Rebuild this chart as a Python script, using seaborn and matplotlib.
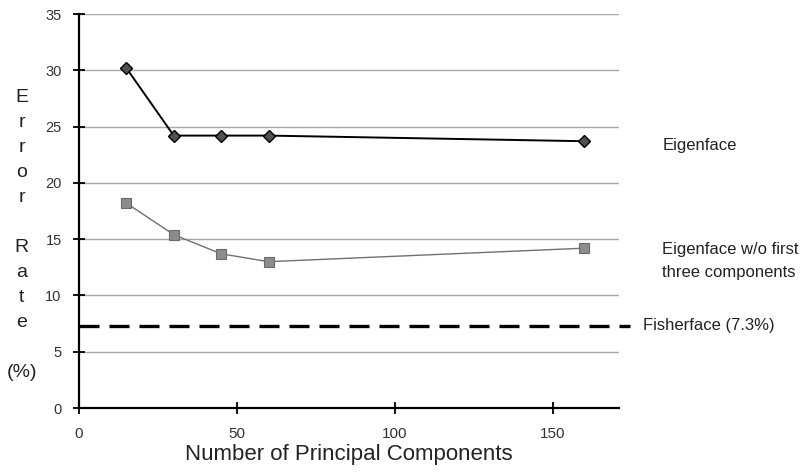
import matplotlib
matplotlib.use("Agg")
import matplotlib.pyplot as plt
import seaborn as sns
import pandas as pd

# ---- data ----
components = [15, 30, 45, 60, 160]
eigenface = [30.2, 24.2, 24.2, 24.2, 23.7]
eigenface_wo3 = [18.2, 15.4, 13.7, 13.0, 14.2]
fisherface = 7.3
y_ticks = [0, 5, 10, 15, 20, 25, 30, 35]
x_ticks = [0, 50, 100, 150]
series_labels = ["Eigenface", "Eigenface w/o first\nthree components", "Fisherface (7.3%)"]

sns.set_theme(style="white")
plt.rcParams['font.family'] = ['Liberation Sans', 'DejaVu Sans']

fig = plt.figure(figsize=(8.11, 4.75), dpi=100)
ax = fig.add_axes([0.0974, 0.141, 0.666, 0.8295])

df1 = pd.DataFrame({"x": components, "y": eigenface})
df2 = pd.DataFrame({"x": components, "y": eigenface_wo3})

# grid lines
for yv in y_ticks[1:]:
    ax.axhline(yv, color="#a8a8a8", lw=1.0, zorder=0)

sns.lineplot(data=df1, x="x", y="y", ax=ax, color="black", lw=1.4,
             marker="D", markersize=6.5, markerfacecolor="#505050",
             markeredgecolor="black", markeredgewidth=1.0, zorder=3)
sns.lineplot(data=df2, x="x", y="y", ax=ax, color="#707070", lw=1.0,
             marker="s", markersize=7.5, markerfacecolor="#8c8c8c",
             markeredgecolor="#6a6a6a", markeredgewidth=0.8, zorder=3)

ax.axhline(fisherface, xmin=0, xmax=1.02, color="black", lw=2.4,
           dashes=(6, 3), clip_on=False, zorder=4)

ax.set_xlim(0, 171)
ax.set_ylim(0, 35)
ax.set_xticks(x_ticks)
ax.set_yticks(y_ticks)
ax.set_xlabel("Number of Principal Components", fontsize=16, labelpad=2,
              color="#222222")
ax.set_ylabel("")

for s in ["top", "right"]:
    ax.spines[s].set_visible(False)
for s in ["left", "bottom"]:
    ax.spines[s].set_color("black")
    ax.spines[s].set_linewidth(1.6)

ax.tick_params(axis="both", direction="inout", length=9, width=1.3,
               colors="black", labelcolor="#333333")
ax.tick_params(axis="x", pad=9, labelsize=11)
ax.tick_params(axis="y", pad=8, labelsize=10.5)
ax.tick_params(left=True, bottom=True)

# right-side labels
ax.text(1.08, 1 - (145 - 14) / 394, series_labels[0], transform=ax.transAxes,
        fontsize=12, va="center", ha="left", color="#222222")
ax.text(1.08, 1 - (261 - 14) / 394, series_labels[1], transform=ax.transAxes,
        fontsize=12, va="center", ha="left", color="#222222", linespacing=1.6)
ax.text(1.045, fisherface / 35, series_labels[2], transform=ax.transAxes,
        fontsize=12, va="center", ha="left", color="#222222")

# stacked y label
fig.text(0.027, 0.505, "E\nr\nr\no\nr\n\nR\na\nt\ne\n\n(%)", fontsize=14,
         ha="center", va="center", linespacing=1.62, color="#222222")

fig.savefig("out.png", dpi=100)
